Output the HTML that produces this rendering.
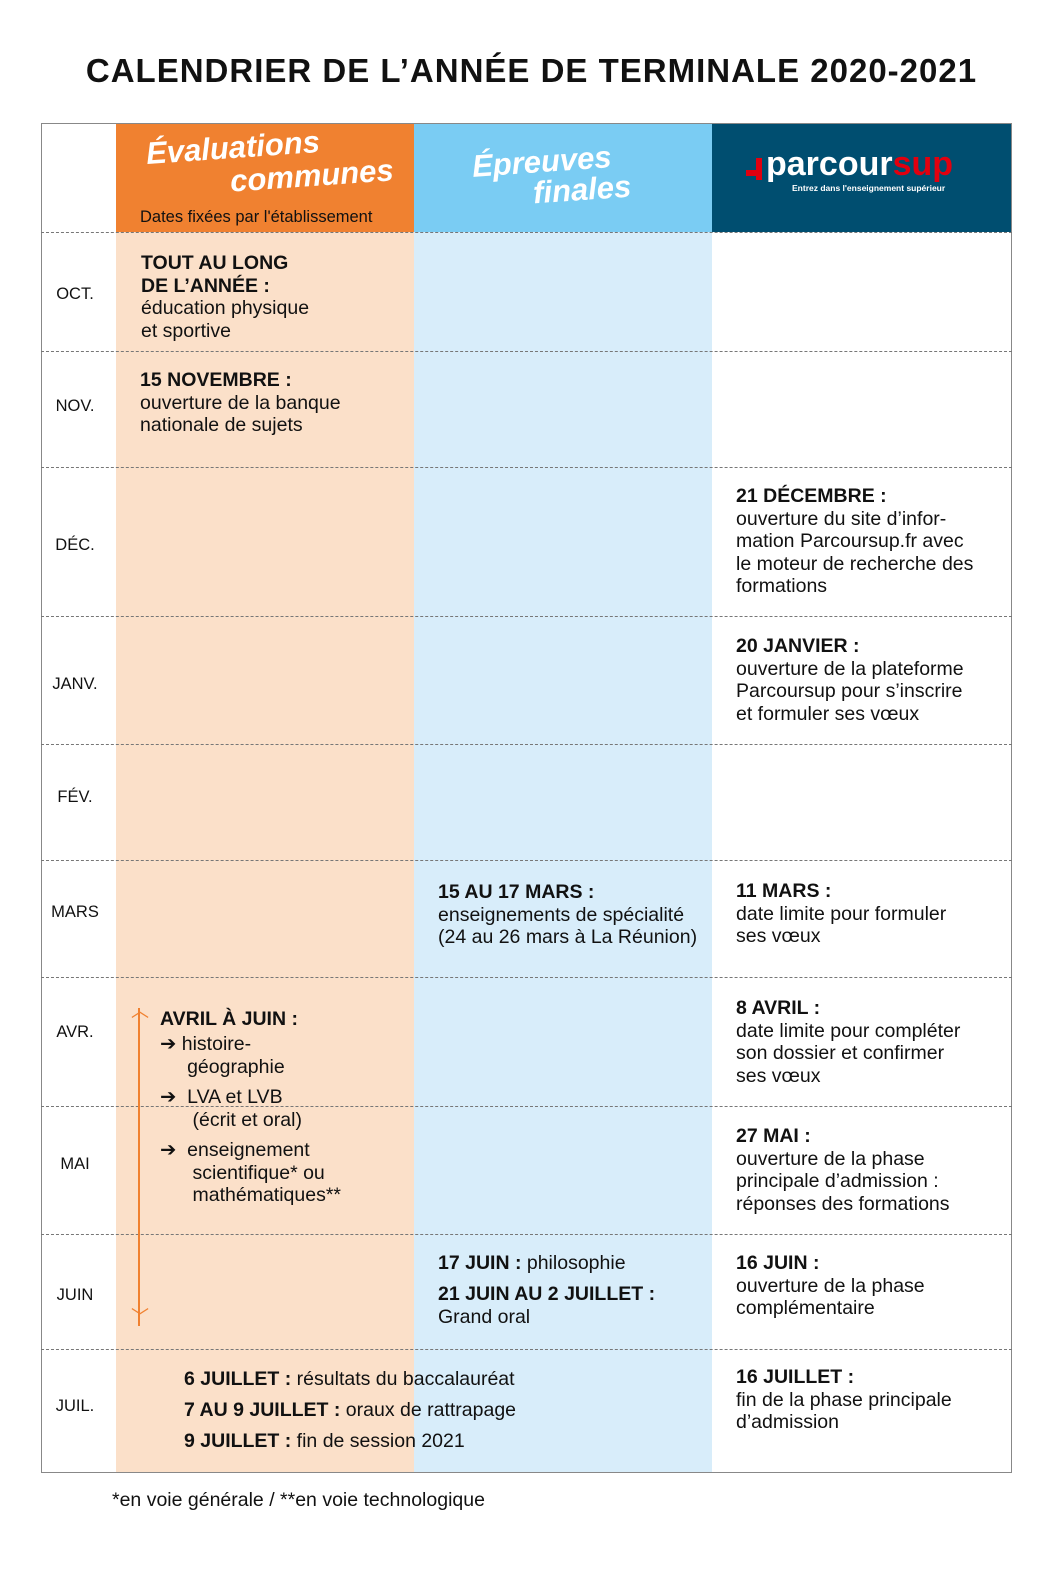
<!DOCTYPE html>
<html><head><meta charset="utf-8"><style>
body{margin:0;width:1063px;height:1583px;background:#fff;font-family:"Liberation Sans",sans-serif;color:#111;position:relative;overflow:hidden}
.a{position:absolute}
.t{font-size:19.5px;line-height:22.5px}
b{font-weight:900}
.m{position:absolute;left:41px;width:68px;text-align:center;font-size:16.5px}
.h{position:absolute;left:41px;width:971px;border-top:1.3px dashed #777}
</style></head><body>
<div class="a" style="left:0;width:1063px;top:52px;text-align:center;font-size:33px;font-weight:900;letter-spacing:1px">CALENDRIER DE L’ANNÉE DE TERMINALE 2020-2021</div>
<div class="a" style="left:116px;top:123px;width:298px;height:1350px;background:#FBE0C9"></div>
<div class="a" style="left:414px;top:123px;width:298px;height:1350px;background:#D8EDFA"></div>
<div class="a" style="left:116px;top:123px;width:298px;height:109px;background:#F08130"></div>
<div class="a" style="left:414px;top:123px;width:298px;height:109px;background:#7ACCF3"></div>
<div class="a" style="left:712px;top:123px;width:300px;height:109px;background:#004E70"></div>
<div class="a" style="left:41px;top:123px;width:969px;height:1348px;border:1px solid #888"></div>
<div class="a" style="left:146px;top:130px;color:#fff;font-style:italic;font-weight:bold;font-size:31px;transform:rotate(-4deg)">Évaluations</div>
<div class="a" style="left:230px;top:158px;color:#fff;font-style:italic;font-weight:bold;font-size:31px;transform:rotate(-4deg)">communes</div>
<div class="a" style="left:140px;top:208px;font-size:16.5px">Dates fixées par l'établissement</div>
<div class="a" style="left:472px;top:144px;color:#fff;font-style:italic;font-weight:bold;font-size:31px;transform:rotate(-4deg)">Épreuves</div>
<div class="a" style="left:533px;top:172px;color:#fff;font-style:italic;font-weight:bold;font-size:31px;transform:rotate(-4deg)">finales</div>
<div class="a" style="left:746px;top:170px;width:12px;height:6px;background:#e1000f"></div>
<div class="a" style="left:756px;top:158px;width:6px;height:22px;background:#e1000f"></div>
<div class="a" style="left:766px;top:146px;font-size:34px;font-weight:bold;color:#fff;line-height:36px">parcour<span style="color:#e1000f">sup</span></div>
<div class="a" style="left:792px;top:183px;font-size:8.5px;font-weight:bold;color:#fff">Entrez dans l'enseignement supérieur</div>
<div class="h" style="top:232px"></div><div class="h" style="top:351px"></div><div class="h" style="top:467px"></div><div class="h" style="top:616px"></div><div class="h" style="top:744px"></div><div class="h" style="top:860px"></div><div class="h" style="top:977px"></div><div class="h" style="top:1106px"></div><div class="h" style="top:1234px"></div><div class="h" style="top:1349px"></div>
<div class="m" style="top:285px">OCT.</div><div class="m" style="top:397px">NOV.</div><div class="m" style="top:536px">DÉC.</div><div class="m" style="top:675px">JANV.</div><div class="m" style="top:788px">FÉV.</div><div class="m" style="top:903px">MARS</div><div class="m" style="top:1023px">AVR.</div><div class="m" style="top:1155px">MAI</div><div class="m" style="top:1286px">JUIN</div><div class="m" style="top:1397px">JUIL.</div>
<div class="a t" style="left:141px;top:252px"><b>TOUT AU LONG<br>DE L’ANNÉE :</b><br>éducation physique<br>et sportive</div>
<div class="a t" style="left:140px;top:369px"><b>15 NOVEMBRE :</b><br>ouverture de la banque<br>nationale de sujets</div>
<div class="a t" style="left:736px;top:485px"><b>21 DÉCEMBRE :</b><br>ouverture du site d’infor-<br>mation Parcoursup.fr avec<br>le moteur de recherche des<br>formations</div>
<div class="a t" style="left:736px;top:635px"><b>20 JANVIER :</b><br>ouverture de la plateforme<br>Parcoursup pour s’inscrire<br>et formuler ses vœux</div>
<div class="a t" style="left:438px;top:881px"><b>15 AU 17 MARS :</b><br>enseignements de spécialité<br>(24 au 26 mars à La Réunion)</div>
<div class="a t" style="left:736px;top:880px"><b>11 MARS :</b><br>date limite pour formuler<br>ses vœux</div>
<div class="a t" style="left:736px;top:997px"><b>8 AVRIL :</b><br>date limite pour compléter<br>son dossier et confirmer<br>ses vœux</div>
<div class="a t" style="left:736px;top:1125px"><b>27 MAI :</b><br>ouverture de la phase<br>principale d’admission :<br>réponses des formations</div>
<div class="a t" style="left:736px;top:1252px"><b>16 JUIN :</b><br>ouverture de la phase<br>complémentaire</div>
<div class="a t" style="left:736px;top:1366px"><b>16 JUILLET :</b><br>fin de la phase principale<br>d’admission</div>
<div class="a t" style="left:438px;top:1252px"><b>17 JUIN :</b> philosophie</div>
<div class="a t" style="left:438px;top:1283px"><b>21 JUIN AU 2 JUILLET :</b><br>Grand oral</div>
<div class="a" style="left:138px;top:1008px;width:2px;height:318px;background:#F08130"></div>
<div class="a" style="left:131px;top:1006px;color:#F08130;font-size:18px;line-height:10px">︿</div>
<div class="a" style="left:131px;top:1312px;color:#F08130;font-size:18px;line-height:10px">﹀</div>
<div class="a t" style="left:160px;top:1008px"><b>AVRIL À JUIN :</b></div>
<div class="a t" style="left:160px;top:1033px">➔ histoire-<br>&nbsp;&nbsp;&nbsp;&nbsp;&nbsp;géographie</div>
<div class="a t" style="left:160px;top:1086px">➔&nbsp; LVA et LVB<br>&nbsp;&nbsp;&nbsp;&nbsp;&nbsp;&nbsp;(écrit et oral)</div>
<div class="a t" style="left:160px;top:1139px">➔&nbsp; enseignement<br>&nbsp;&nbsp;&nbsp;&nbsp;&nbsp;&nbsp;scientifique* ou<br>&nbsp;&nbsp;&nbsp;&nbsp;&nbsp;&nbsp;mathématiques**</div>
<div class="a t" style="left:184px;top:1368px"><b>6 JUILLET :</b> résultats du baccalauréat</div>
<div class="a t" style="left:184px;top:1399px"><b>7 AU 9 JUILLET :</b> oraux de rattrapage</div>
<div class="a t" style="left:184px;top:1430px"><b>9 JUILLET :</b> fin de session 2021</div>
<div class="a t" style="left:112px;top:1489px">*en voie générale / **en voie technologique</div>
</body></html>
